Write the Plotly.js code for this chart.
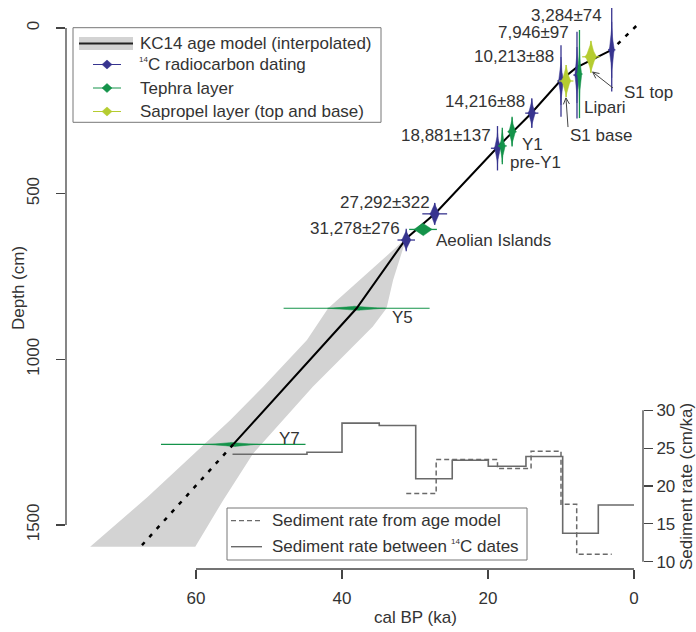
<!DOCTYPE html>
<html><head><meta charset="utf-8">
<script src="https://cdn.plot.ly/plotly-3.0.1.min.js"></script>
<style>html,body{margin:0;padding:0;background:#fff}#chart{width:696px;height:632px}</style>
</head><body><div id="chart"></div>
<script>
// ---------------- data ----------------
// age model (cal ka BP vs depth cm)
const modelAge   = [3.05, 7.85, 10.0, 14.1, 18.7, 27.1, 31.2, 38.0, 54.9];
const modelDepth = [66, 119, 157, 258, 360, 557, 635, 846, 1257];
const extrapTopAge = [-0.3, 3.05];
const extrapTopDepth = [-6, 66];
const extrapBottomAge = [54.9, 67.4];
const extrapBottomDepth = [1257, 1561];
// uncertainty envelope
const bandOldAge   = [31.2, 41.9, 44.8, 50.8, 55.3, 59.0, 66.6, 74.5];
const bandOldDepth = [635, 846, 942, 1083, 1183, 1259, 1415, 1566];
const bandYoungAge   = [60.1, 56.3, 52.2, 44.0, 35.8, 33.9, 33.0, 31.2];
const bandYoungDepth = [1566, 1426, 1285, 1083, 902, 846, 761, 635];
// 14C dates
const dateLabel = ['3,284±74','7,946±97','10,213±88','14,216±88','18,881±137','27,292±322','31,278±276'];
const dateAge   = [3.05, 7.81, 10.0, 14.0, 18.7, 27.3, 31.2];
const dateDepth = [66, 142, 160, 257, 363, 561, 640];
const dateAgeSpread   = [0.5, 0.5, 0.5, 0.9, 0.9, 1.7, 1.2];
const dateDepthSpread = [126, 131, 108, 45, 67, 33, 34];
// tephra layers
const tephraName  = ['Lipari','Y1','pre-Y1','Aeolian Islands','Y5','Y7'];
const tephraAge   = [7.47, 16.7, 18.04, 28.9, 38.0, 54.9];
const tephraDepth = [139, 313, 356, 608, 846, 1257];
const tephraAgeSpread   = [0.4, 0.6, 0.6, 1.9, 10.0, 9.9];
const tephraDepthSpread = [133, 45, 55, 3, 4, 4];
// sapropel S1
const sapropelName  = ['S1 base','S1 top'];
const sapropelAge   = [9.3, 5.9];
const sapropelDepth = [160, 87];
const sapropelAgeSpread   = [1.0, 1.2];
const sapropelDepthSpread = [48, 48];
// sediment rates (cm/ka), step functions over age
const rateModelBreaks = [31.2, 27.1, 18.7, 14.1, 10.0, 7.85, 3.05];
const rateModel       = [19.0, 23.5, 22.3, 24.6, 17.6, 11.0];
const rateDatesBreaks = [55.0, 44.8, 40.0, 34.9, 29.9, 24.9, 19.96, 14.8, 9.77, 4.89, 0];
const rateDates       = [24.2, 24.45, 28.3, 28.0, 20.96, 23.4, 22.6, 23.9, 13.75, 17.5];
// tick labels
const xTicks = [60, 40, 20, 0];
const yTicks = [0, 500, 1000, 1500];
const y2Ticks = [10, 15, 20, 25, 30];

// ---------------- styles / layout geometry ----------------
const W = 696, H = 632, M = {l: 66, r: 53, t: 5, b: 63};
const pw = W - M.l - M.r, ph = H - M.t - M.b;
const xRange = [77.81, -1.233], yRange = [1633.0, -69.4], y2Range = [9.036, 83.54];
const kaPx = (xRange[0] - xRange[1]) / pw;
const cmPx = (yRange[0] - yRange[1]) / ph;
function P(px, py) { return {x: (px - M.l) / pw, y: (H - M.b - py) / ph}; }
function toPx(ka, d) { return [M.l + (xRange[0] - ka) / kaPx, M.t + (d - yRange[1]) / cmPx]; }
const FONT = 'Arial, "Liberation Sans", Helvetica, sans-serif';
const TXT = '#333';
const BLUE = '#37348f', GREEN = '#14934a', YEL = '#b5cc30', GREY = '#d3d3d3', RATE = '#6a6a6a';
// body sizes of the probability "spindles" in px [halfWidth, halfHeight, exponent]
const dateBody = [[3,28,3],[2.5,28,3],[3,24,3],[4,14,2.7],[3.5,16,2.7],[5,11,2.4],[5,10,2.4]];
const tephraBody = [[2.5,28,3],[4,14,2.7],[3,16,2.7],[9,6.5,2],[29,2.5,2.6],[25,2.5,2.6]];
const sapBody = [[5,16,2.6],[6,16,2.6]];

function markers(ages, depths, aSp, dSp, bodies, color, tailW) {
  const bx = [], by = [], tx = [], ty = [];
  for (let i = 0; i < ages.length; i++) {
    const [bw, bh, p] = bodies[i];
    for (let k = 0; k <= 64; k++) {
      const t = 2 * Math.PI * k / 64, c = Math.cos(t), s = Math.sin(t);
      bx.push(ages[i] + bw * kaPx * Math.sign(c) * Math.pow(Math.abs(c), p));
      by.push(depths[i] + bh * cmPx * Math.sign(s) * Math.pow(Math.abs(s), p));
    }
    bx.push(null); by.push(null);
    tx.push(ages[i] - aSp[i], ages[i] + aSp[i], null, ages[i], ages[i], null);
    ty.push(depths[i], depths[i], null, depths[i] - dSp[i], depths[i] + dSp[i], null);
  }
  return [
    {x: tx, y: ty, mode: 'lines', line: {color: color, width: tailW}, hoverinfo: 'skip', connectgaps: false},
    {x: bx, y: by, mode: 'lines', fill: 'toself', fillcolor: color, line: {color: color, width: 0.5}, hoverinfo: 'skip', connectgaps: false}
  ];
}

const traces = [];
traces.push({x: bandOldAge.concat(bandYoungAge), y: bandOldDepth.concat(bandYoungDepth),
  mode: 'lines', fill: 'toself', fillcolor: GREY, line: {width: 0, color: GREY}, hoverinfo: 'skip'});
traces.push(...markers(tephraAge.slice(4), tephraDepth.slice(4), tephraAgeSpread.slice(4), tephraDepthSpread.slice(4), tephraBody.slice(4), GREEN, 1.2));
traces.push({x: modelAge, y: modelDepth, mode: 'lines', line: {color: '#000', width: 2}, hoverinfo: 'skip'});
traces.push({x: extrapTopAge.concat([null], extrapBottomAge), y: extrapTopDepth.concat([null], extrapBottomDepth),
  mode: 'lines', line: {color: '#000', width: 2.5, dash: '4px,7px'}, hoverinfo: 'skip', connectgaps: false});
traces.push(...markers(dateAge, dateDepth, dateAgeSpread, dateDepthSpread, dateBody, BLUE, 1.3));
traces.push(...markers(tephraAge.slice(0, 4), tephraDepth.slice(0, 4), tephraAgeSpread.slice(0, 4), tephraDepthSpread.slice(0, 4), tephraBody.slice(0, 4), GREEN, 1.3));
traces.push(...markers(sapropelAge, sapropelDepth, sapropelAgeSpread, sapropelDepthSpread, sapBody, YEL, 1.2));
traces.push({x: rateModelBreaks, y: rateModel.concat([rateModel[rateModel.length - 1]]), yaxis: 'y2',
  mode: 'lines', line: {shape: 'hv', color: RATE, width: 1.5, dash: '5px,3px'}, hoverinfo: 'skip'});
traces.push({x: rateDatesBreaks, y: rateDates.concat([rateDates[rateDates.length - 1]]), yaxis: 'y2',
  mode: 'lines', line: {shape: 'hv', color: RATE, width: 1.6}, hoverinfo: 'skip'});

// ---------------- annotations ----------------
const ann = [];
function txt(x, y, text, xa, ref, size) {
  ann.push({x: x, y: y, xref: ref ? 'paper' : 'x', yref: ref ? 'paper' : 'y', text: text, showarrow: false,
    xanchor: xa, yanchor: 'middle', font: {family: FONT, size: size || 17, color: TXT}});
}
function txtPx(px, py, text, size) { const p = P(px, py); txt(p.x, p.y, text, 'left', true, size); }
// label placements [ka, depth]
const dateLabelPos = [[4.11,-39],[8.63,15],[10.68,87.5],[14.66,223],[19.32,323],[27.67,528],[31.78,604]];
dateLabel.forEach((t, i) => txt(dateLabelPos[i][0], dateLabelPos[i][1], t, 'right'));
const tephraLabelPos = [[7.12,241],[15.62,353],[17.26,407],[27.4,640],[33.42,875],[48.9,1238]];
tephraName.forEach((t, i) => txt(tephraLabelPos[i][0], tephraLabelPos[i][1], t, 'left'));
const sapLabelPos = [[9.04,323],[1.64,196]];
sapropelName.forEach((t, i) => txt(sapLabelPos[i][0], sapLabelPos[i][1], t, 'left'));
// axis titles
const tD = P(18, 288), tX = P(415, 617), tR = P(686, 487);
ann.push({x: tD.x, y: tD.y, xref: 'paper', yref: 'paper', text: 'Depth (cm)', textangle: -90, showarrow: false,
  xanchor: 'center', yanchor: 'middle', font: {family: FONT, size: 17, color: TXT}});
ann.push({x: tX.x, y: tX.y, xref: 'paper', yref: 'paper', text: 'cal BP (ka)', showarrow: false,
  xanchor: 'center', yanchor: 'middle', font: {family: FONT, size: 17, color: TXT}});
ann.push({x: tR.x, y: tR.y, xref: 'paper', yref: 'paper', text: 'Sediment rate (cm/ka)', textangle: -90, showarrow: false,
  xanchor: 'center', yanchor: 'middle', font: {family: FONT, size: 17, color: TXT}});

// ---------------- shapes: axis lines, arrows, legends ----------------
const shapes = [];
shapes.push({type: 'line', xref: 'x', yref: 'paper', x0: xTicks[0], x1: xTicks[xTicks.length - 1], y0: 0, y1: 0, line: {color: '#444', width: 1.3}});
shapes.push({type: 'line', xref: 'paper', yref: 'y', x0: 0, x1: 0, y0: yTicks[0], y1: yTicks[yTicks.length - 1], line: {color: '#444', width: 1.3}});
shapes.push({type: 'line', xref: 'paper', yref: 'y2', x0: 1, x1: 1, y0: y2Ticks[0], y1: y2Ticks[y2Ticks.length - 1], line: {color: '#444', width: 1.3}});
function rectPx(x0, y0, x1, y1, fill, lc, lw) {
  const a = P(x0, y0), b = P(x1, y1);
  shapes.push({type: 'rect', xref: 'paper', yref: 'paper', x0: a.x, y0: a.y, x1: b.x, y1: b.y,
    fillcolor: fill, line: {color: lc, width: lw}});
}
function linePx(x0, y0, x1, y1, c, w, dash) {
  const a = P(x0, y0), b = P(x1, y1);
  shapes.push({type: 'line', xref: 'paper', yref: 'paper', x0: a.x, y0: a.y, x1: b.x, y1: b.y,
    line: {color: c, width: w, dash: dash || 'solid'}});
}
function diamondPx(cx, cy, hw, hh, c) {
  const pts = [[cx, cy - hh], [cx + hw, cy], [cx, cy + hh], [cx - hw, cy]].map(p => P(p[0], p[1]));
  shapes.push({type: 'path', xref: 'paper', yref: 'paper',
    path: 'M' + pts.map(p => p.x + ',' + p.y).join(' L') + ' Z', fillcolor: c, line: {color: c, width: 0.5}});
}
// arrows from sapropel labels to markers (open chevron heads)
const arrowTail = [[9.04,299],[2.88,181]];
const arrowHead = [[9.32,211],[5.66,133]];
arrowHead.forEach((h, i) => {
  const [hx, hy] = toPx(h[0], h[1]), [tx, ty] = toPx(arrowTail[i][0], arrowTail[i][1]);
  linePx(tx, ty, hx, hy, '#444', 1);
  const ang = Math.atan2(ty - hy, tx - hx), L = 7, sp = 0.45;
  linePx(hx, hy, hx + L * Math.cos(ang + sp), hy + L * Math.sin(ang + sp), '#444', 1);
  linePx(hx, hy, hx + L * Math.cos(ang - sp), hy + L * Math.sin(ang - sp), '#444', 1);
});
// top-left legend
rectPx(73, 27.7, 381, 122.3, '#fff', '#777', 1);
rectPx(79, 37, 133, 50, GREY, GREY, 0);
linePx(79, 43.5, 133, 43.5, '#222', 2.2);
const legRows = [{y: 64.5, c: BLUE}, {y: 88, c: GREEN}, {y: 111.5, c: YEL}];
legRows.forEach(r => { linePx(93, r.y, 121, r.y, r.c, 1); diamondPx(107, r.y, 5, 4.5, r.c); });
txtPx(138, 43, 'KC14 age model (interpolated)');
txtPx(137, 59.5, '14', 8);
txtPx(146, 64.5, 'C radiocarbon dating');
txtPx(138, 88, 'Tephra layer');
txtPx(138, 111.5, 'Sapropel layer (top and base)');
// bottom legend
rectPx(227, 508, 527, 560, '#fff', '#777', 1);
linePx(231, 520.7, 262, 520.7, RATE, 1.3, '5px,3px');
linePx(231, 546.7, 262, 546.7, RATE, 1.4);
txtPx(270, 520.5, 'Sediment rate from age model');
txtPx(270, 546.5, 'Sediment rate between');
txtPx(449, 541.5, '14', 8);
txtPx(458, 546.5, 'C dates');

const axCommon = {showgrid: false, zeroline: false, showline: false, ticks: 'outside', ticklen: 9, tickwidth: 1.2,
  tickcolor: '#444', automargin: false, fixedrange: true, tickfont: {family: FONT, size: 17, color: TXT}};
const layout = {
  width: W, height: H, margin: {l: M.l, r: M.r, t: M.t, b: M.b, pad: 0},
  paper_bgcolor: '#fff', plot_bgcolor: 'rgba(0,0,0,0)', showlegend: false,
  font: {family: FONT, size: 17, color: TXT},
  xaxis: Object.assign({}, axCommon, {range: xRange, tickvals: xTicks, ticktext: xTicks.map(String), ticklabelstandoff: 5}),
  yaxis: Object.assign({}, axCommon, {range: yRange, tickvals: yTicks, ticktext: yTicks.map(String), tickangle: -90, ticklabelstandoff: 10}),
  yaxis2: Object.assign({}, axCommon, {range: y2Range, overlaying: 'y', side: 'right', tickvals: y2Ticks, ticktext: y2Ticks.map(String), ticklabelstandoff: 0}),
  shapes: shapes, annotations: ann
};
Plotly.newPlot('chart', traces, layout, {staticPlot: true, displayModeBar: false}).then(gd => {
  gd.querySelectorAll('text').forEach(t => { if (!t.textContent.trim()) t.remove(); });
});
</script></body></html>
